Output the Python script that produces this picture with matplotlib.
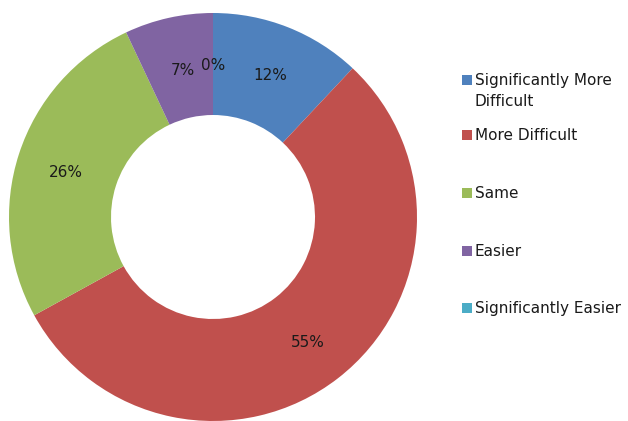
import math

import matplotlib
matplotlib.use("Agg")
import matplotlib.pyplot as plt
from matplotlib.patches import Rectangle

categories = ["Significantly More\nDifficult", "More Difficult", "Same", "Easier",
              "Significantly Easier"]
values = [12, 55, 26, 7, 0]
colors = ["#4F81BD", "#C0504D", "#9BBB59", "#8064A2", "#4BACC6"]

plt.rcParams["font.family"] = ["DejaVu Sans"]

fig = plt.figure(figsize=(6.28, 4.21), dpi=100, facecolor="white")
W, H = 628, 421
cx, cy, r = 213, 217, 204
ax = fig.add_axes([(cx - r) / W, (H - cy - r) / H, 2 * r / W, 2 * r / H])

wedges, texts = ax.pie(
    values, colors=colors, startangle=90, counterclock=False,
    wedgeprops=dict(width=0.5, linewidth=0),
)
ax.set_xlim(-1, 1)
ax.set_ylim(-1, 1)
ax.set_aspect("equal")

# percentage labels (Excel nudges the small ones apart)
total = sum(values)
for cat, v, w in zip(categories, values, wedges):
    mid = math.radians((w.theta1 + w.theta2) / 2)
    x, y = 0.76 * math.cos(mid), 0.76 * math.sin(mid) - 0.015
    if cat == "Easier":
        x, y = -0.15, 0.72
    ax.text(x, y, f"{round(100 * v / total)}%", ha="center", va="center",
            fontsize=11, color="#1a1a1a")

# legend drawn in pixel space to match the Excel layout
lax = fig.add_axes([0, 0, 1, 1])
lax.set_xlim(0, W)
lax.set_ylim(H, 0)
lax.axis("off")
legend_y = [80, 135, 193, 251, 308]   # centre of first text line per row
for cat, c, y in zip(categories, colors, legend_y):
    lax.add_patch(Rectangle((462, y - 5), 10, 10, facecolor=c, edgecolor="none"))
    lax.text(475, y - 6.8, cat, ha="left", va="top", fontsize=11,
             color="#1a1a1a", linespacing=1.45)

fig.savefig("out.png", dpi=100, facecolor="white")
